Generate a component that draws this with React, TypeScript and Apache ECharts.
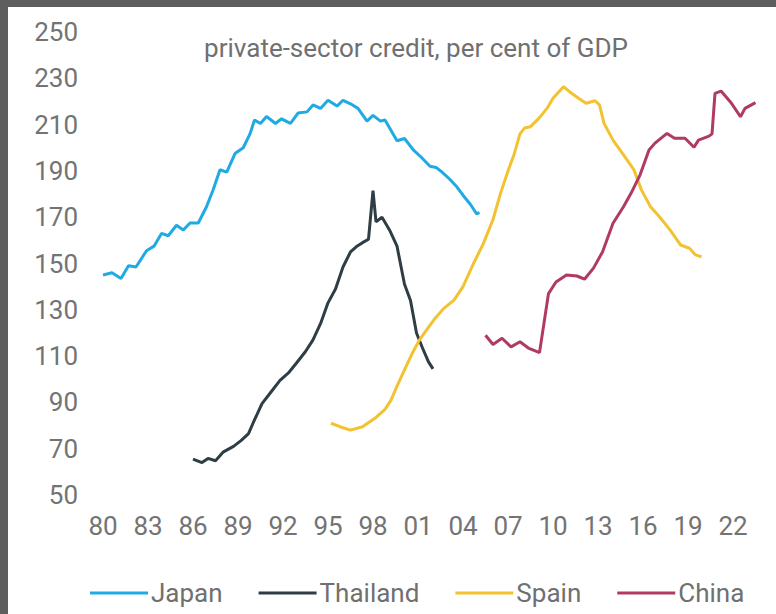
import React, { useEffect, useRef } from "react";
import * as echarts from "echarts";

const titleText = "private-sector credit, per cent of GDP";
const seriesNames = ["Japan", "Thailand", "Spain", "China"];
const seriesColors = ["#20aae3", "#2f3d45", "#f2c230", "#b03a64"];

const japan: [number, number][] = [
  [1980.0, 145], [1980.6, 146], [1981.2, 143.5], [1981.7, 149], [1982.2, 148.5], [1982.9, 155.5],
  [1983.4, 157.5], [1983.9, 163], [1984.35, 162], [1984.9, 166.5], [1985.35, 164.5], [1985.8, 167.5],
  [1986.35, 167.5], [1986.9, 174.5], [1987.35, 182], [1987.8, 190.5], [1988.25, 189.5], [1988.8, 197.5],
  [1989.35, 200], [1989.8, 206], [1990.1, 212], [1990.5, 210.5], [1990.9, 213.5], [1991.5, 210.5],
  [1991.9, 212.5], [1992.5, 210.5], [1993.0, 215], [1993.6, 215.5], [1994.0, 218.5], [1994.5, 217],
  [1995.0, 220.5], [1995.6, 218], [1996.0, 220.5], [1996.5, 219], [1997.0, 217], [1997.6, 211.5],
  [1998.0, 214], [1998.5, 211.5], [1998.8, 212], [1999.6, 203], [2000.1, 204], [2000.7, 199],
  [2001.2, 196], [2001.8, 192], [2002.2, 191.5], [2002.6, 189.5], [2003.1, 186.5], [2003.6, 183],
  [2004.0, 179.5], [2004.5, 175.5], [2004.9, 171.5], [2005.1, 172],
];

const thailand: [number, number][] = [
  [1986.0, 65.5], [1986.6, 64], [1987.0, 65.8], [1987.5, 64.8], [1988.0, 68.5], [1988.7, 71],
  [1989.2, 73.5], [1989.7, 76.5], [1990.0, 81], [1990.6, 89.5], [1991.2, 94.5], [1991.8, 99.5],
  [1992.4, 103], [1992.9, 107], [1993.5, 112], [1994.0, 117], [1994.5, 124], [1995.0, 133],
  [1995.5, 139], [1996.0, 148.5], [1996.5, 155], [1996.9, 157.3], [1997.3, 159], [1997.7, 160.5],
  [1998.0, 181.5], [1998.2, 168], [1998.6, 170], [1999.1, 164.5], [1999.6, 157.5], [2000.1, 141],
  [2000.5, 134], [2000.9, 120], [2001.3, 113.5], [2001.7, 107.5], [2002.0, 104.5],
];

const spain: [number, number][] = [
  [1995.2, 81], [1995.8, 79.5], [1996.5, 78], [1997.3, 79.5], [1998.2, 83.5], [1998.8, 87],
  [1999.2, 91], [1999.6, 97], [2000.2, 105.5], [2000.6, 111], [2001.1, 117], [2001.6, 121.5],
  [2002.1, 126], [2002.7, 130.5], [2003.4, 134.2], [2004.0, 140], [2004.7, 150], [2005.35, 158.5],
  [2006.0, 169], [2006.5, 180.3], [2007.0, 190], [2007.4, 197], [2007.8, 206], [2008.1, 208.5],
  [2008.5, 209.1], [2009.1, 213], [2009.6, 217], [2010.0, 221.4], [2010.7, 226.4], [2011.1, 224.2],
  [2011.7, 221.4], [2012.2, 219.2], [2012.8, 220.3], [2013.1, 218.5], [2013.4, 210.6], [2014.0, 203.3],
  [2014.7, 196.9], [2015.4, 190.4], [2015.9, 181.7], [2016.5, 174.5], [2017.1, 170.2], [2017.8, 164.5],
  [2018.5, 158], [2019.1, 156.6], [2019.5, 153.7], [2019.9, 152.9],
];

const china: [number, number][] = [
  [2005.5, 119], [2006.0, 115], [2006.6, 117.7], [2007.2, 114], [2007.8, 116.2], [2008.4, 113.3],
  [2009.1, 111.5], [2009.7, 137], [2010.2, 142], [2010.9, 145], [2011.6, 144.6], [2012.1, 143.2],
  [2012.7, 148], [2013.3, 155], [2014.0, 167.4], [2014.7, 174.5], [2015.2, 180.3], [2015.8, 188.2],
  [2016.4, 199], [2016.8, 202], [2017.6, 206.2], [2018.1, 204.1], [2018.8, 204.1], [2019.4, 200.2],
  [2019.7, 203.3], [2020.4, 205], [2020.6, 206], [2020.8, 223.5], [2021.2, 224.5], [2021.9, 219.2],
  [2022.5, 213.4], [2022.8, 217], [2023.5, 219.5],
];

const seriesData = [japan, thailand, spain, china];

const xMin = 1980;
const xMax = 2024;
const xInterval = 3;
const yMin = 50;
const yMax = 250;
const yInterval = 20;

export default function App() {
  const ref = useRef<HTMLDivElement>(null);
  useEffect(() => {
    if (!ref.current) return;
    const chart = echarts.init(ref.current, undefined, { renderer: "svg" });
    const font = "Roboto";
    chart.setOption({
      animation: false,
      backgroundColor: "#ffffff",
      title: {
        text: titleText,
        left: 411,
        top: 30,
        textAlign: "center",
        textStyle: { fontFamily: font, fontSize: 26, fontWeight: "normal", color: "#707070" },
      },
      legend: {
        data: seriesNames,
        left: 85,
        top: 575,
        icon: "rect",
        itemWidth: 58,
        itemHeight: 3,
        itemGap: 36,
        textStyle: { fontFamily: font, fontSize: 26, color: "#707070", padding: [0, 0, 0, -2] },
      },
      grid: { left: 103, right: 13, top: 32, bottom: 119, containLabel: false },
      xAxis: {
        type: "value",
        min: xMin,
        max: xMax,
        interval: xInterval,
        axisLine: { show: false },
        axisTick: { show: false },
        splitLine: { show: false },
        axisLabel: {
          margin: 18,
          fontFamily: font,
          fontSize: 26,
          color: "#737373",
          formatter: (v: number) =>
            (v - xMin) % xInterval === 0 ? String(v % 100).padStart(2, "0") : "",
        },
      },
      yAxis: {
        type: "value",
        min: yMin,
        max: yMax,
        interval: yInterval,
        axisLine: { show: false },
        axisTick: { show: false },
        splitLine: { show: false },
        axisLabel: { margin: 25, fontFamily: font, fontSize: 26, color: "#737373" },
      },
      graphic: [
        { type: "rect", z: 100, shape: { x: 0, y: 0, width: 776, height: 7 }, style: { fill: "#5e5e5e" } },
        { type: "rect", z: 100, shape: { x: 0, y: 0, width: 8, height: 614 }, style: { fill: "#5e5e5e" } },
      ],
      series: seriesNames.map((name, i) => ({
        name,
        type: "line",
        data: seriesData[i],
        showSymbol: false,
        symbol: "none",
        lineStyle: { width: 3, color: seriesColors[i] },
        itemStyle: { color: seriesColors[i] },
      })),
    });
    return () => chart.dispose();
  }, []);
  return (
    <div
      ref={ref}
      style={{ position: "absolute", left: 0, top: 0, width: 776, height: 614 }}
    />
  );
}
